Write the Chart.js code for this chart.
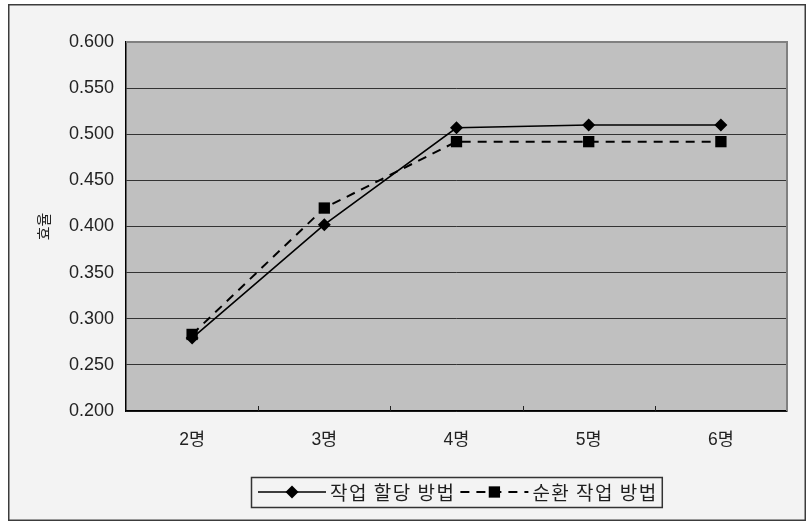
<!DOCTYPE html>
<html>
<head>
<meta charset="utf-8">
<script src="https://cdn.jsdelivr.net/npm/chart.js@4"></script>
<style>
  html, body { margin: 0; padding: 0; background: #fff; }
  canvas { display: block; }
</style>
</head>
<body>
<canvas id="c" width="808" height="521"></canvas>
<script>
// Efficiency by crew size for two work methods
const categories = ['2명', '3명', '4명', '5명', '6명'];
const allocationLabel = '작업 할당 방법';
const allocationValues = [0.279, 0.402, 0.507, 0.510, 0.510];
const rotationLabel = '순환 작업 방법';
const rotationValues = [0.283, 0.420, 0.492, 0.492, 0.492];
const yMin = 0.2, yMax = 0.6, yStep = 0.05;
const yTitle = '효율';

const FONT = '"Liberation Sans", "Noto Sans CJK KR", sans-serif';
const KFONT = '"Noto Sans CJK KR", sans-serif';

function drawMarker(ctx, style, x, y, r) {
  ctx.beginPath();
  if (style === 'rectRot') {
    ctx.moveTo(x, y - r); ctx.lineTo(x + r, y); ctx.lineTo(x, y + r); ctx.lineTo(x - r, y);
    ctx.closePath();
  } else {
    const s = r * Math.SQRT1_2;
    ctx.rect(x - s, y - s, 2 * s, 2 * s);
  }
  ctx.fill();
}

const framePlugin = {
  id: 'frame',
  beforeDraw(chart) {
    const { ctx, chartArea: a } = chart;
    ctx.save();
    ctx.fillStyle = '#ffffff';
    ctx.fillRect(0, 0, chart.width, chart.height);
    ctx.fillStyle = '#f3f3f3';
    ctx.fillRect(9, 5, 796, 515);
    ctx.strokeStyle = '#3c3c3c';
    ctx.lineWidth = 1.5;
    ctx.strokeRect(8.75, 4.75, 796.5, 515.5);
    ctx.fillStyle = '#c0c0c0';
    ctx.fillRect(a.left, a.top, a.right - a.left, a.bottom - a.top);
    ctx.restore();
  },
  beforeDatasetsDraw(chart) {
    const { ctx, chartArea: a, scales: { x } } = chart;
    ctx.save();
    // plot frame on the open sides
    ctx.strokeStyle = '#808080';
    ctx.lineWidth = 2;
    ctx.beginPath();
    ctx.moveTo(a.left, a.top);
    ctx.lineTo(a.right, a.top);
    ctx.lineTo(a.right, a.bottom);
    ctx.stroke();
    // small inward tick marks between categories
    ctx.strokeStyle = '#222';
    ctx.lineWidth = 1;
    for (let i = 1; i < categories.length; i++) {
      const px = Math.round((x.getPixelForValue(i - 1) + x.getPixelForValue(i)) / 2) + 0.5;
      ctx.beginPath();
      ctx.moveTo(px, a.bottom);
      ctx.lineTo(px, a.bottom - 5);
      ctx.stroke();
    }
    ctx.restore();
  },
  afterDraw(chart) {
    // boxed legend with line samples
    const { ctx, chartArea: a } = chart;
    const sets = chart.data.datasets;
    ctx.save();
    ctx.font = '19px ' + KFONT;
    ctx.letterSpacing = '1.5px';
    const sampleW = 68, gapA = 4, gapB = 5, padL = 7, padR = 4;
    const widths = sets.map(ds => ctx.measureText(ds.label).width);
    let total = padL + padR + gapB * (sets.length - 1);
    widths.forEach(w => { total += sampleW + gapA + w; });
    const cx = (a.left + a.right) / 2;
    const left = Math.round(cx - total / 2);
    const top = 477, h = 30, cy = top + h / 2;
    ctx.strokeStyle = '#333';
    ctx.lineWidth = 1.5;
    ctx.strokeRect(left + 0.5, top + 0.5, total, h);
    let xx = left + padL;
    sets.forEach((ds, i) => {
      ctx.strokeStyle = ds.borderColor;
      ctx.fillStyle = ds.borderColor;
      ctx.lineWidth = ds.borderWidth;
      ctx.setLineDash(ds.borderDash || []);
      ctx.beginPath();
      ctx.moveTo(xx, cy);
      ctx.lineTo(xx + sampleW, cy);
      ctx.stroke();
      ctx.setLineDash([]);
      drawMarker(ctx, ds.pointStyle, xx + sampleW / 2, cy, ds.pointRadius);
      xx += sampleW + gapA;
      ctx.fillStyle = '#1e1e1e';
      ctx.textBaseline = 'middle';
      ctx.textAlign = 'left';
      ctx.fillText(ds.label, xx, cy + 1);
      xx += widths[i] + gapB;
    });
    ctx.restore();
  }
};

new Chart(document.getElementById('c'), {
  type: 'line',
  data: {
    labels: categories,
    datasets: [
      {
        label: allocationLabel,
        data: allocationValues,
        borderColor: '#000',
        backgroundColor: '#000',
        borderWidth: 1.6,
        pointStyle: 'rectRot',
        pointRadius: 6.5,
        pointHoverRadius: 6.5,
        pointBorderWidth: 0,
        tension: 0,
        fill: false
      },
      {
        label: rotationLabel,
        data: rotationValues,
        borderColor: '#000',
        backgroundColor: '#000',
        borderWidth: 2,
        borderDash: [9, 7],
        pointStyle: 'rect',
        pointRadius: 8,
        pointHoverRadius: 8,
        pointBorderWidth: 0,
        tension: 0,
        fill: false
      }
    ]
  },
  options: {
    responsive: false,
    devicePixelRatio: 1,
    animation: false,
    events: [],
    layout: { padding: { left: 20, top: 42, right: 21, bottom: 60 } },
    plugins: { legend: { display: false }, tooltip: { enabled: false } },
    scales: {
      x: {
        offset: true,
        grid: { display: false, drawTicks: false },
        border: { display: true, color: '#000', width: 1.5 },
        ticks: { font: { family: FONT, size: 17.5 }, color: '#222', padding: 19 },
        afterFit(s) { s.height = 50; }
      },
      y: {
        min: yMin,
        max: yMax,
        grid: {
          drawTicks: false,
          lineWidth: 1,
          color: c => (Math.abs(c.tick.value - yMax) < 1e-6 ? 'rgba(0,0,0,0)' : '#333')
        },
        border: { display: true, color: '#000', width: 1.5 },
        ticks: {
          stepSize: yStep,
          font: { family: FONT, size: 18 },
          color: '#222',
          padding: 12,
          callback: v => Number(v).toFixed(3)
        },
        title: {
          display: true,
          text: yTitle,
          font: { family: KFONT, size: 15 },
          color: '#222',
          padding: { top: 14, bottom: 0 }
        },
        afterFit(s) { s.width = 106; }
      }
    }
  },
  plugins: [framePlugin]
});
</script>
</body>
</html>
